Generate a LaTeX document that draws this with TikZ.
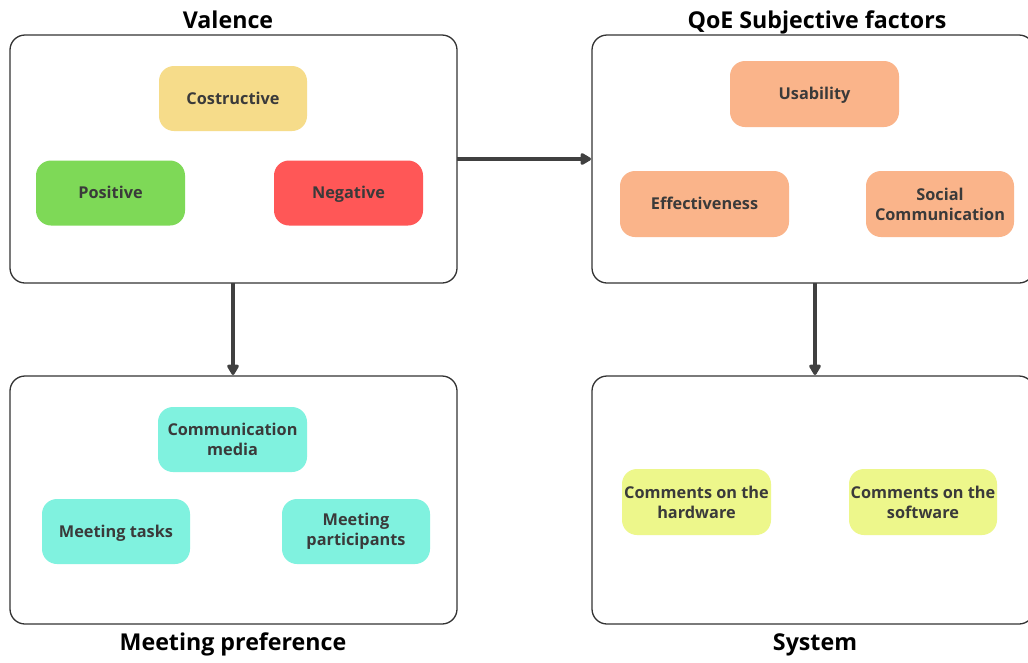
\documentclass[tikz,border=0pt]{standalone}
\usepackage{fontspec}
\setmainfont{Open Sans}
\usetikzlibrary{arrows.meta}
\definecolor{boxline}{HTML}{333333}
\definecolor{arrowc}{HTML}{404040}
\definecolor{txt}{HTML}{3A3A3A}
\definecolor{cyellow}{HTML}{F6DC8A}
\definecolor{cgreen}{HTML}{7ED957}
\definecolor{cred}{HTML}{FF5757}
\definecolor{corange}{HTML}{FAB48A}
\definecolor{ccyan}{HTML}{80F2DF}
\definecolor{clime}{HTML}{EDF78B}
\tikzset{
  panel/.style={draw=boxline, line width=1.3pt, rounded corners=15pt, fill=white},
  item/.style={rounded corners=15pt, minimum height=65pt, inner sep=0pt, align=center,
    text=txt, font=\fontsize{16.3}{20}\selectfont\bfseries},
  oneline/.style={text height=15.6pt, text depth=4pt},
  ttl/.style={font=\fontsize{23.2}{26}\selectfont\bfseries, text=black, anchor=base},
  conn/.style={draw=arrowc, line width=4pt, -{Triangle[length=12pt,width=13pt,round]}, shorten >=1pt}
}
\begin{document}
\begin{tikzpicture}[x=1pt,y=-1pt]
\useasboundingbox (0,0) rectangle (1028,662);
% panels
\draw[panel] (10,35) rectangle (457,283);
\draw[panel] (592,35) rectangle (1034,283);
\draw[panel] (10,376) rectangle (457,624);
\draw[panel] (592,376) rectangle (1034,624);
\coordinate (valR) at (457,159);
\coordinate (qoeL) at (592,159);
\coordinate (valB) at (233,283);
\coordinate (meetT) at (233,376);
\coordinate (qoeB) at (815,283);
\coordinate (sysT) at (815,376);
% titles
\node[ttl] (tval) at (228,28) {Valence};
\node[ttl] (tqoe) at (817,28) {QoE Subjective factors};
\node[ttl] (tmeet) at (233,650) {Meeting preference};
\node[ttl] (tsys) at (815,650) {System};
% valence items
\node[item, oneline, fill=cyellow, minimum width=148pt] (cos) at (233,98.5) {Costructive};
\node[item, oneline, fill=cgreen, minimum width=149pt] (pos) at (110.5,193) {Positive};
\node[item, oneline, fill=cred, minimum width=149pt] (neg) at (348.5,193) {Negative};
% qoe items
\node[item, oneline, fill=corange, minimum width=169pt, minimum height=66pt] (usa) at (814.5,94) {Usability};
\node[item, oneline, fill=corange, minimum width=169pt, minimum height=66pt] (eff) at (704.5,204) {Effectiveness};
\node[item, fill=corange, minimum width=148pt, minimum height=66pt] (soc) at (940,204) {Social\\Communication};
% meeting items
\node[item, fill=ccyan, minimum width=149pt] (med) at (232.5,439.5) {Communication\\media};
\node[item, oneline, fill=ccyan, minimum width=148pt] (tas) at (116,531.5) {Meeting tasks};
\node[item, fill=ccyan, minimum width=148pt] (par) at (356,531.5) {Meeting\\participants};
% system items
\node[item, fill=clime, minimum width=149pt, minimum height=66pt] (hw) at (696.5,502) {Comments on the\\hardware};
\node[item, fill=clime, minimum width=148pt, minimum height=66pt] (sw) at (923,502) {Comments on the\\software};
% connectors
\draw[conn] (valR) -- (qoeL);
\draw[conn] (valB) -- (meetT);
\draw[conn] (qoeB) -- (sysT);
\end{tikzpicture}
\end{document}
